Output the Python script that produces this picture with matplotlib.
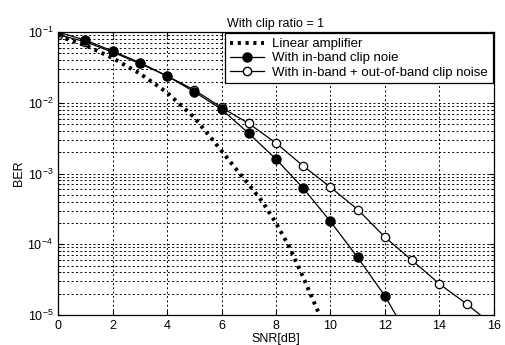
import numpy as np
import matplotlib.pyplot as plt
from matplotlib.ticker import LogLocator, NullFormatter

plt.rcParams['font.family'] = ['Liberation Sans', 'DejaVu Sans']

# linear amplifier (dotted curve)
snr_lin = [0, 1, 2, 3, 4, 5, 6, 6.5, 7, 7.5, 8, 8.5, 9, 9.6]
ber_lin = [0.088, 0.065, 0.043, 0.026, 0.014, 0.0062, 0.0021, 0.0012, 7.0e-4,
           4.0e-4, 2.0e-4, 9.0e-5, 3.4e-5, 1.0e-5]

# with in-band clip noise
snr_in = [0, 1, 2, 3, 4, 5, 6, 7, 8, 9, 10, 11, 12, 12.4]
ber_in = [0.1, 0.077, 0.054, 0.037, 0.024, 0.0143, 0.0081, 0.0037, 1.6e-3,
          6.2e-4, 2.1e-4, 6.5e-5, 1.86e-5, 1.0e-5]

# with in-band + out-of-band clip noise
snr_out = [0, 1, 2, 3, 4, 5, 6, 7, 8, 9, 10, 11, 12, 13, 14, 15, 15.5]
ber_out = [0.092, 0.073, 0.052, 0.036, 0.024, 0.0152, 0.0086, 0.0051, 2.7e-3,
           1.28e-3, 6.4e-4, 3.1e-4, 1.26e-4, 5.9e-5, 2.75e-5, 1.43e-5, 1.0e-5]

fig = plt.figure(figsize=(5.05, 3.45), dpi=100)
ax = fig.add_axes([0.115, 0.087, 0.863, 0.82])

dots = (0, (0.8, 1.2))
ax.semilogy(snr_lin, ber_lin, color='black', linestyle=dots, linewidth=2.8)
ax.semilogy(snr_out, ber_out, color='black', linewidth=0.9)
ax.semilogy(snr_out[:-1], ber_out[:-1], color='black', marker='o', markersize=6,
            markerfacecolor='white', markeredgewidth=0.9, linestyle='none')
ax.semilogy(snr_in, ber_in, color='black', linewidth=0.9)
ax.semilogy(snr_in[:-1], ber_in[:-1], color='black', marker='o', markersize=6.5,
            markerfacecolor='black', linestyle='none')

# legend proxies
h1, = ax.plot([], [], color='black', linestyle=dots, linewidth=2.8)
h2, = ax.plot([], [], color='black', linewidth=0.9, marker='o', markersize=6.5)
h3, = ax.plot([], [], color='black', linewidth=0.9, marker='o', markersize=6,
              markerfacecolor='white')
leg = ax.legend([h1, h2, h3],
                ['Linear amplifier', 'With in-band clip noie',
                 'With in-band + out-of-band clip noise'],
                loc='upper right', fontsize=9.5, frameon=True, fancybox=False,
                edgecolor='black', framealpha=1, borderaxespad=0.1,
                handlelength=2.6, handletextpad=0.6, labelspacing=0.15, borderpad=0.35)
leg.get_frame().set_linewidth(0.9)

ax.set_xlim(0, 16)
ax.set_ylim(1e-5, 1e-1)
ax.set_xticks(np.arange(0, 17, 2))
ax.yaxis.set_major_locator(LogLocator(base=10, numticks=10))
ax.yaxis.set_minor_locator(LogLocator(base=10, subs=np.arange(2, 10), numticks=20))
ax.yaxis.set_minor_formatter(NullFormatter())

ax.grid(True, which='major', color='black', linestyle=(0, (2, 2.5)), linewidth=0.7)
ax.grid(True, which='minor', axis='y', color='black', linestyle=(0, (2, 2.5)), linewidth=0.7)
ax.tick_params(which='both', direction='in', top=True, right=True, labelsize=9)
ax.tick_params(which='minor', length=2)
for s in ax.spines.values():
    s.set_linewidth(0.9)

ax.set_xlabel('SNR[dB]', fontsize=9, labelpad=1)
ax.set_ylabel('BER', fontsize=9, labelpad=2)
ax.set_title('With clip ratio = 1', fontsize=9, pad=4)

fig.savefig('out.png', dpi=100)
